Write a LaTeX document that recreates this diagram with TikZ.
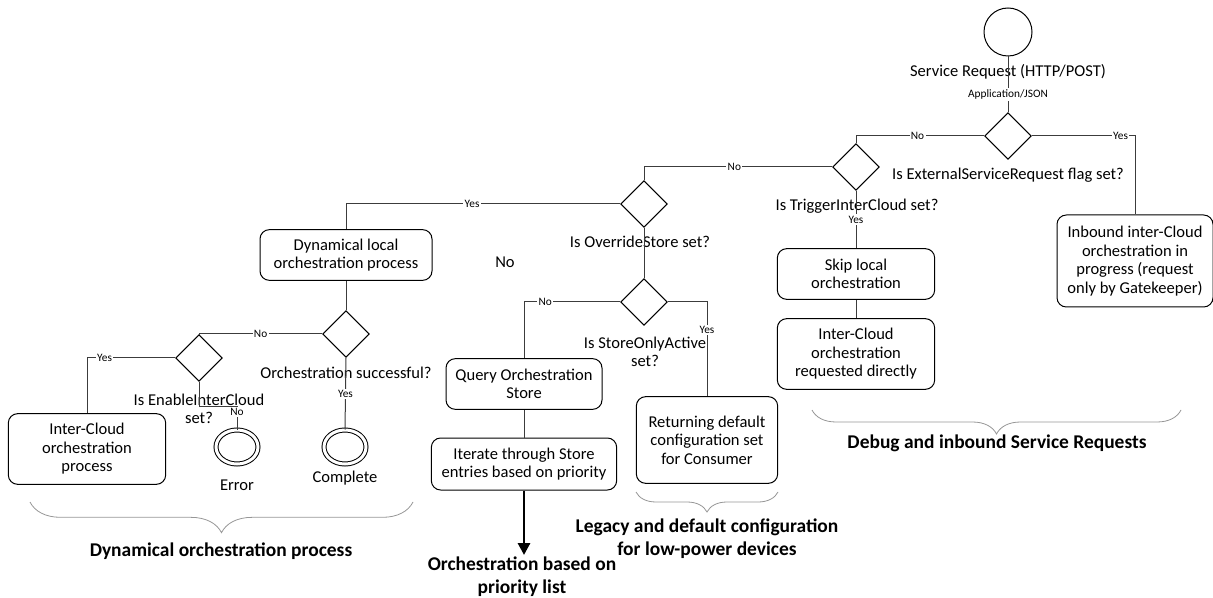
\documentclass[tikz,border=0pt]{standalone}
\usepackage{fontspec}
\setmainfont{Carlito}
\usepackage{xcolor}
\definecolor{LineGray}{RGB}{60,60,60}
\definecolor{BraceGray}{RGB}{150,150,150}
\usepackage{tikz}
\usetikzlibrary{shapes.geometric, arrows.meta, decorations.pathreplacing}

\begin{document}
\begin{tikzpicture}[x=0.75pt, y=-0.75pt,
    every node/.style={font=\fontsize{12.4}{13.9}\selectfont},
    procbox/.style={draw=black, line width=0.75pt, rounded corners=7pt, align=center, inner sep=1.5pt},
    decision/.style={draw=black, line width=0.75pt, diamond, aspect=1, minimum size=35pt, inner sep=0pt},
    startstate/.style={draw=black, line width=0.75pt, circle, minimum size=36pt, inner sep=0pt},
    endstate/.style={draw=black, line width=0.75pt, ellipse, double, double distance=2.25pt, minimum width=31.5pt, minimum height=25.5pt, inner sep=0pt},
    plain/.style={align=center, inner sep=1pt},
    lbl/.style={font=\fontsize{8.5}{10}\selectfont, fill=white, inner sep=1pt},
    grouplbl/.style={align=center, font=\fontsize{14.6}{17.3}\selectfont\bfseries},
    conn/.style={draw=LineGray, line width=0.75pt},
    groupbrace/.style={draw=BraceGray, line width=0.6pt, decorate}]
  \useasboundingbox (0,0) rectangle (1213,598);

  % Eingang
  \node[startstate] (start) at (1008,32) {};
  \node[plain] (srtext) at (1008,72) {Service Request (HTTP/POST)};
  \node[decision] (extreq) at (1008,136) {};
  \node[plain] (extreqtext) at (1008,175) {Is ExternalServiceRequest flag set?};
  \node[procbox, minimum width=117pt, minimum height=69pt] (inbound) at (1135,261)
    {Inbound inter-Cloud\\orchestration in\\progress (request\\only by Gatekeeper)};

  % TriggerInterCloud
  \node[decision] (trigger) at (856,167) {};
  \node[plain] (triggertext) at (857,206) {Is TriggerInterCloud set?};
  \node[procbox, minimum width=118pt, minimum height=38pt] (skip) at (856,274) {Skip local\\orchestration};
  \node[procbox, minimum width=118pt, minimum height=53pt] (icdirect) at (856,354)
    {Inter-Cloud\\orchestration\\requested directly};

  % OverrideStore / StoreOnlyActive
  \node[decision] (override) at (644,204) {};
  \node[plain] (overridetext) at (640,242) {Is OverrideStore set?};
  \node[plain] (notext) at (505,262) {No};
  \node[decision] (onlyactive) at (644,302) {};
  \node[plain] (onlyactivetext) at (645,352) {Is StoreOnlyActive\\set?};
  \node[procbox, minimum width=117pt, minimum height=38pt] (query) at (524,384) {Query Orchestration\\Store};
  \node[procbox, minimum width=139pt, minimum height=39pt] (iterate) at (524,464)
    {Iterate through Store\\entries based on priority};
  \node[procbox, minimum width=106pt, minimum height=65pt] (returning) at (707,440)
    {Returning default\\configuration set\\for Consumer};
  \coordinate (prioend) at (524,555);

  % dynamische Orchestrierung
  \node[procbox, minimum width=129pt, minimum height=38pt] (dynlocal) at (346,255)
    {Dynamical local\\orchestration process};
  \node[decision] (success) at (346,334) {};
  \node[plain] (successtext) at (346,373) {Orchestration successful?};
  \node[endstate] (complete) at (345,447) {};
  \node[plain] (completetext) at (345,478) {Complete};
  \node[decision] (enableic) at (199,358) {};
  \node[plain] (enableictext) at (199,409) {Is EnableInterCloud\\set?};
  \node[endstate] (error) at (237,447) {};
  \node[plain] (errortext) at (237,485) {Error};
  \node[procbox, minimum width=118pt, minimum height=53pt] (icproc) at (87,449)
    {Inter-Cloud\\orchestration\\process};

  % Verbindungen
  \draw[conn] (start) -- node[lbl, pos=0.68] {Application/JSON} (extreq);
  \draw[conn] (extreq.west) -| node[lbl, pos=0.26] {No} (trigger.north);
  \draw[conn] (extreq.east) -| node[lbl, pos=0.43] {Yes} (inbound.north);
  \draw[conn] (trigger.south) -- node[lbl, pos=0.5] {Yes} (skip);
  \draw[conn] (skip) -- (icdirect);
  \draw[conn] (trigger.west) -| node[lbl, pos=0.26] {No} (override.north);
  \draw[conn] (override.west) -| node[lbl, pos=0.27] {Yes} (dynlocal.north);
  \draw[conn] (override.south) -- (onlyactive.north);
  \draw[conn] (onlyactive.west) -| node[lbl, pos=0.39] {No} (query.north);
  \draw[conn] (onlyactive.east) -| node[lbl, pos=0.65] {Yes} (returning.north);
  \draw[conn] (query) -- (iterate);
  \draw[line width=2.2pt, -{Triangle[length=9pt, width=9pt]}] (iterate) -- (prioend);
  \draw[conn] (dynlocal) -- (success.north);
  \draw[conn] (success.south) -- node[lbl, pos=0.5] {Yes} (complete.north);
  \draw[conn] (success.west) -| node[lbl, pos=0.25] {No} (enableic.north);
  \draw[conn] (enableic.west) -| node[lbl, pos=0.4] {Yes} (icproc.north);
  \draw[conn] (enableic.south) -- ++(0,25) -| node[lbl, pos=0.62] {No} (error.north);

  % Gruppen
  \draw[groupbrace, decoration={brace, mirror, amplitude=23pt}] (30,502) -- (413,502);
  \node[grouplbl] (dyngroup) at (221,551) {Dynamical orchestration process};
  \draw[groupbrace, decoration={brace, mirror, amplitude=15pt}] (636,492) -- (778,492);
  \node[grouplbl] (legacygroup) at (707,539) {Legacy and default configuration\\for low-power devices};
  \draw[groupbrace, decoration={brace, mirror, amplitude=18pt}] (812,410) -- (1181,410);
  \node[grouplbl] (debuggroup) at (997,443) {Debug and inbound Service Requests};
  \node[grouplbl] (priogroup) at (522,577) {Orchestration based on\\priority list};
\end{tikzpicture}
\end{document}
